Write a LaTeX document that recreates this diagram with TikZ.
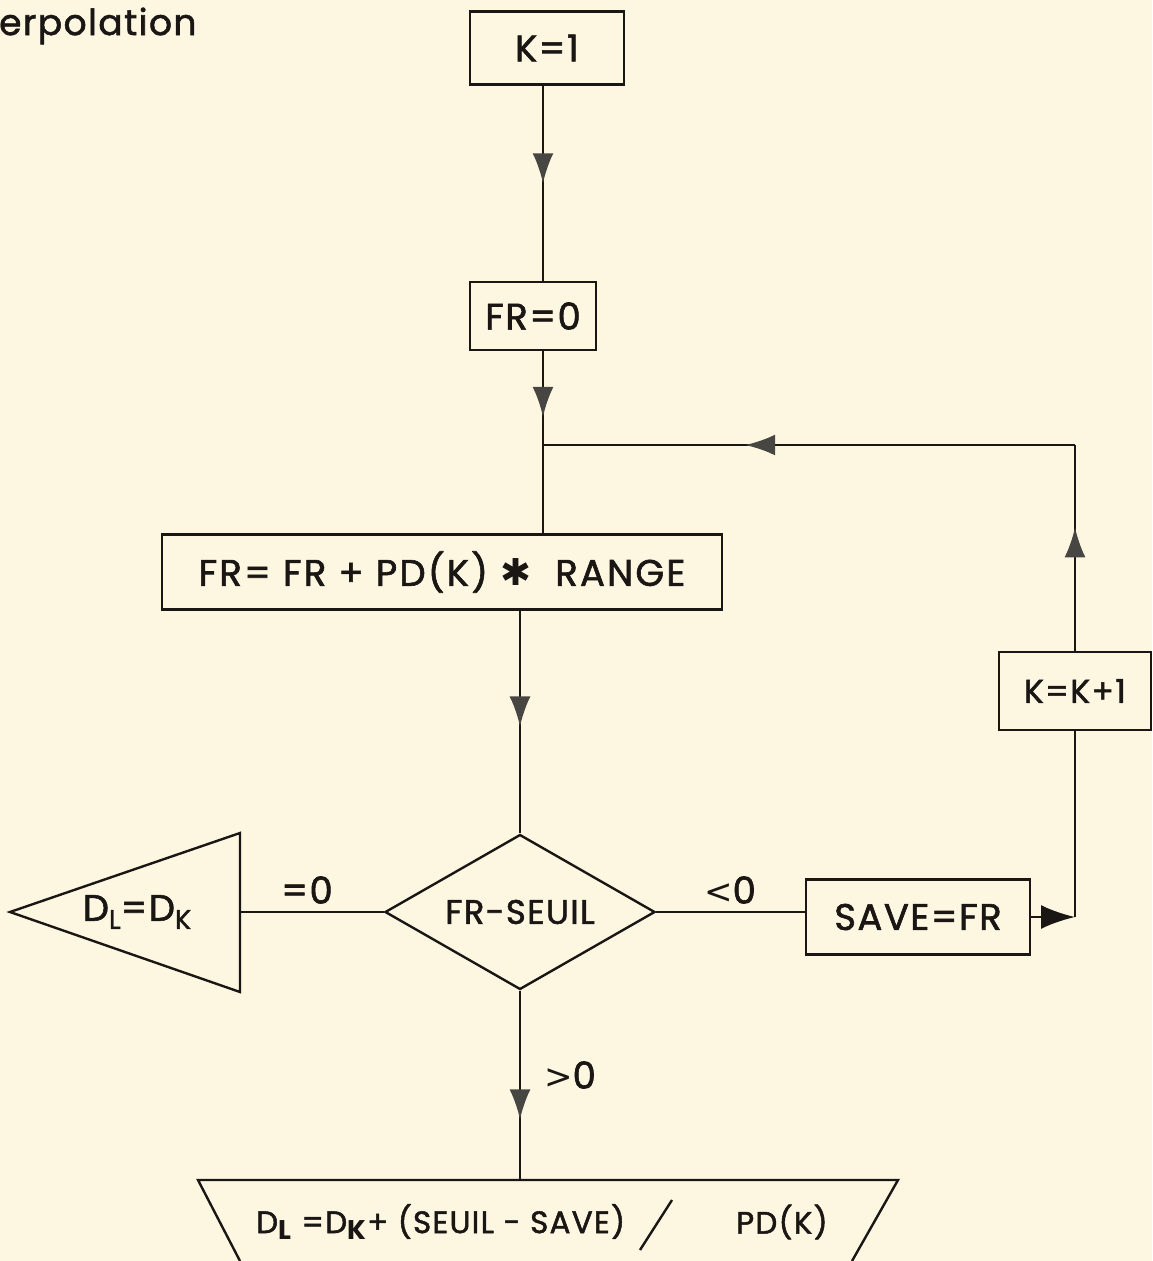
\documentclass[tikz,border=0pt]{standalone}
\usepackage{fontspec}
\setmainfont{Poppins}[UprightFeatures={FakeBold=1.6}, LetterSpace=4]
\newfontfamily\dejavu{DejaVu Sans}
\usetikzlibrary{arrows.meta,decorations.markings,shapes.geometric}
\definecolor{paper}{RGB}{253,247,226}
\definecolor{ink}{RGB}{25,22,20}
\definecolor{tipc}{RGB}{72,70,66}
\newcommand\lowsub[1]{\raisebox{-0.4ex}{\fontsize{27}{27}\selectfont #1}}
\begin{document}
\begin{tikzpicture}[x=1pt,y=-1pt, line width=2.4pt, draw=ink,
  box/.style={draw=ink, rectangle, inner sep=0pt, text=ink, font=\fontsize{37}{40}\selectfont},
  lbl/.style={text=ink, inner sep=0pt, font=\fontsize{37}{40}\selectfont},
  midarrow/.style={postaction={decorate}, decoration={markings, mark=at position #1 with {\arrow{Latex[length=30pt,width=21pt,color=tipc]}}}}]
\useasboundingbox[fill=paper] (0,0) rectangle (1152,1261);
\clip (0,0) rectangle (1152,1261);

% title fragment
\node[lbl, anchor=base west, font=\fontsize{36}{40}\selectfont] (title) at (-2,35) {erpolation};

% boxes
\node[box, minimum width=154pt, minimum height=73pt] (k1) at (547,48) {K=1};
\node[box, minimum width=126pt, minimum height=68pt] (fr0) at (533,316) {FR=0};
\node[box, minimum width=560pt, minimum height=75pt] (frfr) at (442,572) {\addfontfeatures{LetterSpace=6}FR= FR + PD(K) {\dejavu ✱}\ \ RANGE};
\node[box, diamond, aspect=1.74, minimum width=270pt, minimum height=155pt, font=\fontsize{34}{38}\selectfont] (dia) at (520,912) {FR-SEUIL};
\node[box, minimum width=224pt, minimum height=75pt] (save) at (918,917) {SAVE=FR};
\node[box, minimum width=152pt, minimum height=78pt, font=\fontsize{33}{36}\selectfont] (kk1) at (1075,691) {K=K+1};

% triangle (left terminal)
\coordinate (tapex) at (10,912);
\coordinate (ttop) at (240,833);
\coordinate (tbot) at (240,992);
\coordinate (tmid) at (240,912);
\draw[line join=miter] (ttop) -- (tapex) -- (tbot) -- cycle;
\node[lbl, font=\fontsize{37}{40}\selectfont] (dldk) at (137,912) {D\lowsub{L}=D\lowsub{K}};

% trapezoid (bottom terminal)
\coordinate (trtl) at (198,1180);
\coordinate (trtr) at (898,1180);
\coordinate (trtop) at (520,1180);
\draw (240,1261) -- (trtl) -- (trtr) -- (852,1261);
\node[lbl, anchor=west, font=\fontsize{31}{35}\selectfont] (trtext) at (255,1222) {D\lowsub{\textbf{L}} =D\lowsub{\textbf{K}}+ (SEUIL - SAVE)};
\coordinate (sla) at (640,1250);
\coordinate (slb) at (672,1200);
\draw (sla) -- (slb);
\node[lbl, anchor=west, font=\fontsize{31}{35}\selectfont] (pdk) at (735,1222) {PD(K)};

% connectors
\coordinate (junc) at (543,445);
\coordinate (corner) at (1075,445);
\coordinate (savecorner) at (1075,917);
\draw[midarrow=0.5] (k1.south -| junc) -- (fr0.north -| junc);
\draw[midarrow=0.7] (fr0.south -| junc) -- (junc);
\draw (junc) -- (frfr.north -| junc);
\draw[midarrow=0.52] (frfr.south -| dia.north) -- (dia.north);
\draw[midarrow=0.68] (dia.south) -- (trtop);
\draw (dia.west) -- (tmid);
\draw (dia.east) -- (dia.east -| save.west);
\draw[-{Latex[length=34pt,width=24pt,color=ink]}] (save.east) -- (savecorner);
\draw (savecorner) -- (kk1.south);
\draw[midarrow=0.6] (kk1.north) -- (corner);
\draw[midarrow=0.62] (corner) -- (junc);

% branch labels
\node[lbl] (leq) at (307,890) {=0};
\node[lbl] (llt) at (730,890) {{\dejavu\fontsize{34}{38}\selectfont <}0};
\node[lbl] (lgt) at (570,1075) {{\dejavu\fontsize{34}{38}\selectfont >}0};
\end{tikzpicture}
\end{document}
